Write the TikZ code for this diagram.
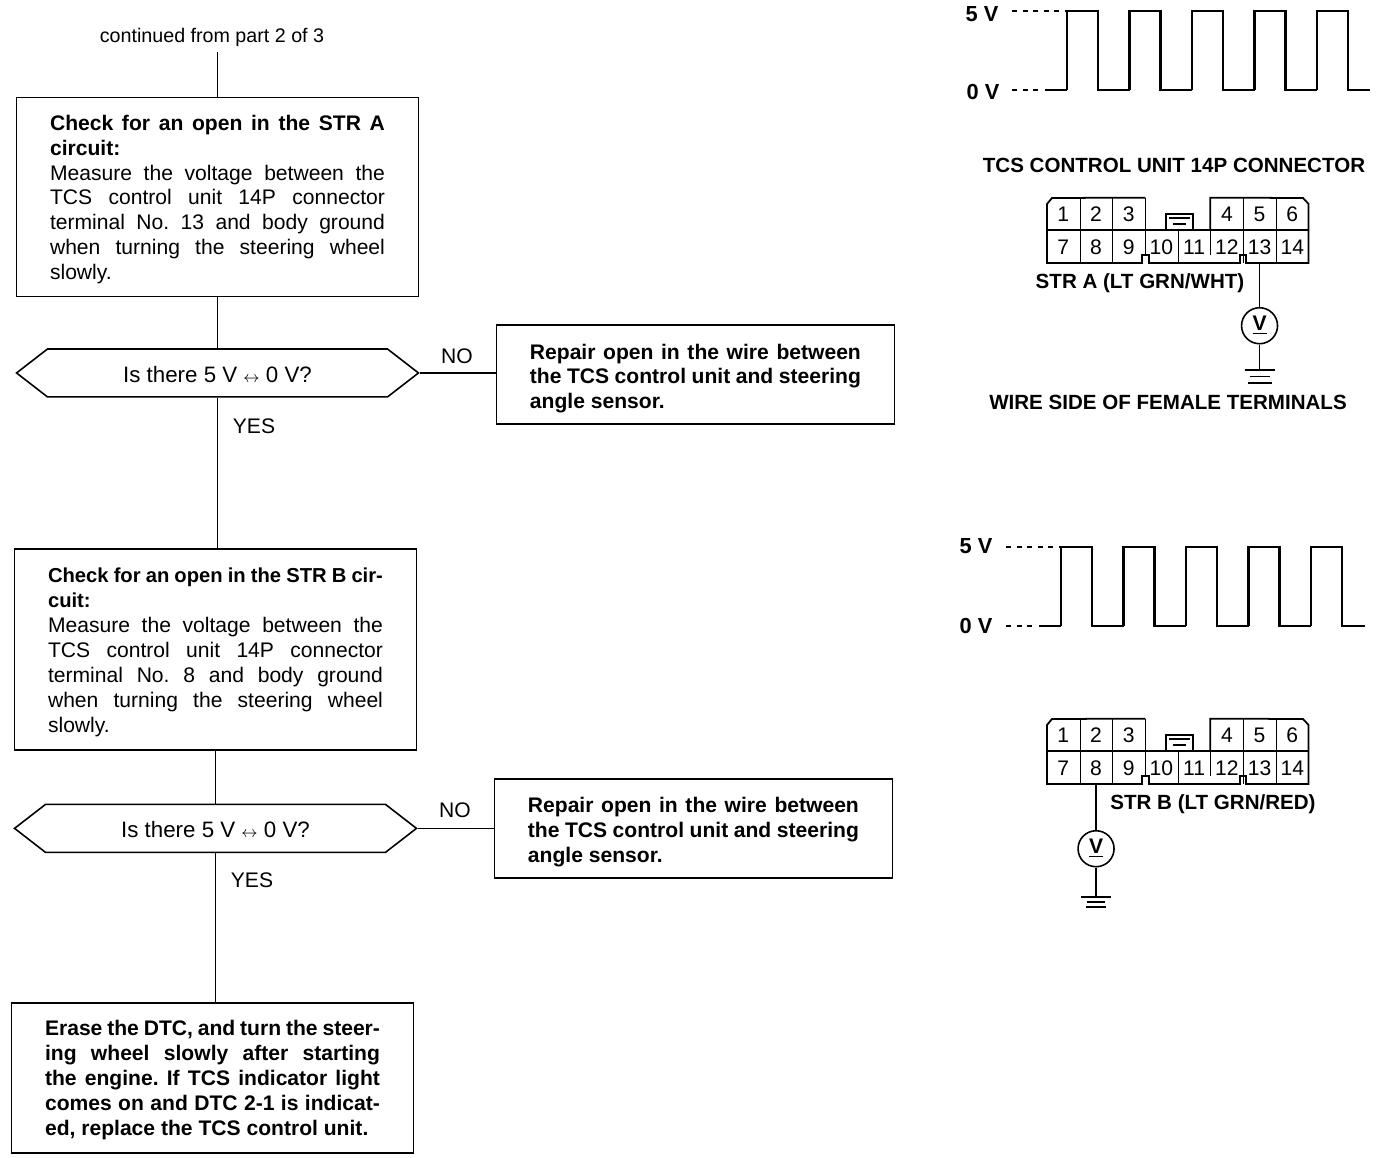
\documentclass[tikz,border=0pt]{standalone}
\usepackage{amsmath,amsfonts,amssymb}
\usepackage{fontspec}
\setmainfont{Liberation Sans}
\usetikzlibrary{shapes.symbols}
\frenchspacing
\begin{document}
\begin{tikzpicture}[x=0.02cm,y=-0.02cm,>=stealth,node distance=1.8cm]
    \tikzstyle{every node}=[font=\fontsize{12}{14.2}\selectfont]
    \tikzstyle{box}=[rectangle,draw,line width=0.9pt,text width=6.7cm,inner xsep=0.67cm,inner ysep=0pt,align=justify,execute at begin node={\rule{0pt}{11.6pt}}]
    \tikzstyle{repair}=[box,text width=6.62cm,minimum height=1.98cm,execute at begin node={\rule{0pt}{13.4pt}},font=\fontsize{12}{14.2}\selectfont\bfseries]
    \tikzstyle{ask}=[signal,signal to=west and east,signal pointer angle=75.5,draw,line width=0.9pt,minimum width=8.04cm,minimum height=0.96cm,inner sep=0pt,text height=10.8pt,text depth=0pt,font=\fontsize{12.7}{14.2}\selectfont]
    \tikzstyle{flow}=[line width=0.8pt]
    \tikzstyle{caption}=[font=\fontsize{11.7}{14}\selectfont\bfseries,inner sep=0pt]
    \tikzstyle{volt}=[font=\fontsize{12.4}{14}\selectfont\bfseries,inner sep=0pt]
    \tikzstyle{wave}=[line width=1.2pt]
    \tikzstyle{grid}=[line width=0.6pt]
    \tikzstyle{shell}=[line width=1pt]
    \tikzstyle{cell}=[minimum width=0.654cm,minimum height=0.65cm,inner sep=0pt,text height=8.6pt,text depth=0pt]
    \tikzstyle{meter}=[circle,draw,line width=0.9pt,minimum size=0.72cm,inner sep=0pt,font=\fontsize{12}{14}\selectfont\bfseries]
    \useasboundingbox (0,0) rectangle (1376,1158);
    % flow chart
    \node[font=\fontsize{11.2}{14}\selectfont] (cont) at (212,37) {continued from part 2 of 3};
    \node[box,minimum height=3.98cm] (stra) at (217.5,197) {\textbf{Check for an open in the STR A\linebreak circuit:}\\ Measure the voltage between the\linebreak TCS control unit 14P connector\linebreak terminal No. 13 and body ground\linebreak when turning the steering wheel\linebreak slowly.};
    \node[ask,below of=stra,node distance=3.52cm] (aska) {Is there 5 V $\scriptstyle\leftrightarrow$ 0 V?};
    \node[repair,right of=aska,node distance=9.56cm,yshift=-0.03cm] (fixa) {Repair open in the wire between\linebreak the TCS control unit and steering\linebreak angle sensor.};
    \node[box,minimum height=4.02cm,below of=aska,node distance=5.53cm,xshift=-0.04cm] (strb) {\textbf{\fontsize{11.5}{14.2}\selectfont Check for an open in the STR B cir-\linebreak cuit:}\\ Measure the voltage between the\linebreak TCS control unit 14P connector\linebreak terminal No. 8 and body ground\linebreak when turning the steering wheel\linebreak slowly.};
    \node[ask,below of=strb,node distance=3.58cm] (askb) {Is there 5 V $\scriptstyle\leftrightarrow$ 0 V?};
    \node[repair,right of=askb,node distance=9.56cm] (fixb) {Repair open in the wire between\linebreak the TCS control unit and steering\linebreak angle sensor.};
    \node[box,minimum height=3cm,below of=askb,node distance=4.99cm,xshift=-0.06cm,font=\fontsize{12}{14.2}\selectfont\bfseries] (done) {Erase the DTC, and turn the steer-\linebreak ing wheel slowly after starting\linebreak the engine. If TCS indicator light\linebreak comes on and DTC 2-1 is indicat-\linebreak ed, replace the TCS control unit.};
    \draw[flow] (cont.south -| stra.north) -- (stra.north);
    \draw[flow] (stra.south) -- (aska.north);
    \draw[flow] (aska.south) -- (aska.south |- strb.north);
    \draw[flow] (strb.south) -- (askb.north);
    \draw[flow] (askb.south) -- (askb.south |- done.north);
    \draw[flow] (aska.east) -- (fixa.west |- aska.east);
    \draw[flow] (askb.east) -- (fixb.west |- askb.east);
    \node (noa) at (457,356) {NO};
    \node (yesa) at (254,426) {YES};
    \node (nob) at (455,810) {NO};
    \node (yesb) at (252,880) {YES};
    % wave forms
    \foreach \wx/\wy/\wl/\wt in {1067/11/90/22,1061/547/626/23}{
      \foreach \k in {0,...,4}{
        \pgfmathsetmacro{\tail}{\k<4?31.5:\wt}
        \draw[wave] ({\wx+\k*62.5},\wl) -- ++(0,\wy-\wl) -- ++(31,0) -- ++(0,\wl-\wy) -- ++(\tail,0);
      }
      \draw[grid,dashed] (\wx-55,\wy) -- (\wx,\wy);
      \draw[grid,dashed] (\wx-55,\wl) -- (\wx-24,\wl);
      \draw[wave] (\wx-22,\wl) -- (\wx,\wl);
    }
    \node[volt] (higha) at (982,14) {5 V};
    \node[volt] (lowa) at (983,92) {0 V};
    \node[volt] (highb) at (976,546) {5 V};
    \node[volt] (lowb) at (976,626) {0 V};
    % connectors
    \foreach \pre/\cy in {a/198,b/719}{
      \begin{scope}[shift={(1047,\cy)},name prefix=\pre-]
        \foreach \num/\col in {1/0,2/1,3/2,4/5,5/6,6/7}
          \node[cell] (\num) at ({\col*32.7+16.35},16.25) {\num};
        \foreach \num in {7,...,14}
          \node[cell] (\num) at ({(\num-7)*32.7+16.35},48.75) {\num};
        \foreach \num in {1,2,4,5,7,8,10,12,13}
          \draw[grid] (\num.north east) -- (\num.south east);
        \foreach \num in {9,11}
          \draw[grid,shorten >=0.16cm] (\num.north east) -- (\num.south east);
        \draw[shell] (7.north west) -- (14.north east);
        \draw[shell] (3.north east) -- (5,0) -- (0,6) -- (0,65) -- (95,65) -- (95,57) -- (102,57) -- (102,65)
          -- (193,65) -- (193,57) -- (199,57) -- (199,65) -- (261.6,65) -- (261.6,6) -- (256,0) -- (4.north west) -- (4.south west);
        \draw[shell] (3.north east) -- (3.south east);
        % latch
        \draw[grid] (119,32) -- (119,16) -- (146,16) -- (146,32);
        \draw[shell] (122,20) -- (143,20);
        \draw[grid] (126,26) -- (139,26);
      \end{scope}
    }
    \node[caption] (labela) at (1140,283) {STR A (LT GRN/WHT)};
    \node[caption] (labelb) at (1213,804) {STR B (LT GRN/RED)};
    \node[caption] (title) at (1174,165) {TCS CONTROL UNIT 14P CONNECTOR};
    \node[caption] (wside) at (1168,402) {WIRE SIDE OF FEMALE TERMINALS};
    % meters
    \node[meter,below of=a-13,node distance=1.58cm] (va) {\underline{V}};
    \node[meter,below of=b-8,node distance=1.62cm] (vb) {\underline{V}};
    \coordinate (gnda) at (va |- 0,370);
    \coordinate (gndb) at (vb |- 0,897);
    \draw[shell] (a-13.south) -- (va.north);
    \draw[shell] (va.south) -- (gnda);
    \draw[shell] (b-8.south) -- (vb.north);
    \draw[shell] (vb.south) -- (gndb);
    \foreach \gy/\gw in {0/15,6.5/10,13/12}
      \draw[grid] ([shift={(-\gw,\gy)}]gnda) -- ([shift={(\gw,\gy)}]gnda);
    \foreach \gy/\gw in {0/15,5/9,10/10}
      \draw[grid] ([shift={(-\gw,\gy)}]gndb) -- ([shift={(\gw,\gy)}]gndb);
  \end{tikzpicture}
\end{document}
